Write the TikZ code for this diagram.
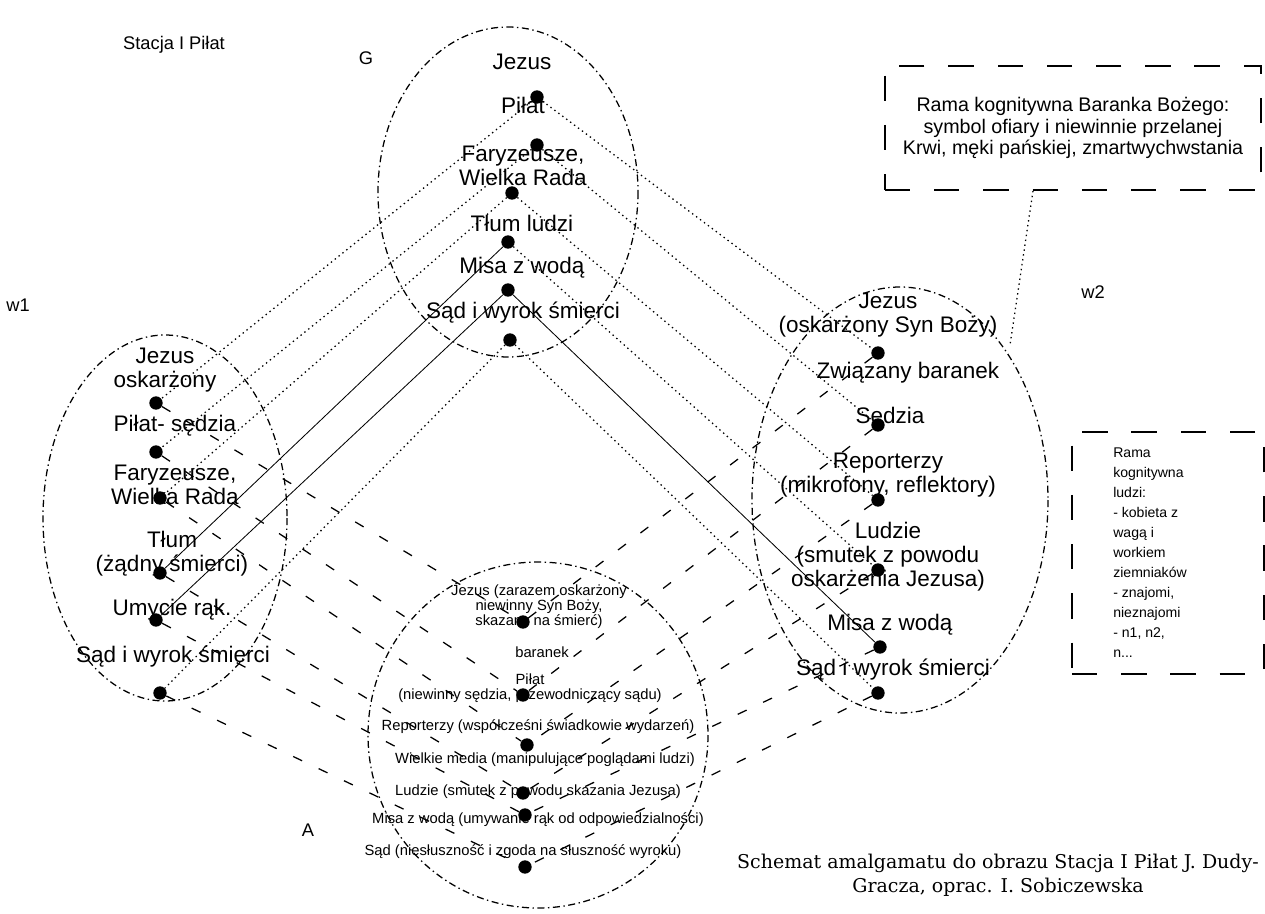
\documentclass[tikz,border=0pt]{standalone}
\usepackage{fontspec}
\setmainfont{Liberation Sans}
\newfontfamily\capfont{DejaVu Serif}
\begin{document}
\begin{tikzpicture}[x=0.025cm,y=-0.025cm,
  dot/.style={circle,fill=black,inner sep=0pt,minimum size=9.5pt},
  lab/.style={font=\fontsize{16}{17}\selectfont,align=center,inner sep=0pt},
  small/.style={font=\fontsize{10.5}{10.7}\selectfont,align=center,inner sep=0pt},
  oval/.style={line width=0.9pt,dash pattern=on 5pt off 2.5pt on 1pt off 2.5pt},
  frame/.style={draw,line width=1.3pt,dash pattern=on 18pt off 17pt},
  mapg/.style={line width=0.9pt,dash pattern=on 1pt off 2.5pt},
  mapa/.style={line width=0.9pt,dash pattern=on 7pt off 13pt}]
  \useasboundingbox (0,0) rectangle (1265,914);

  % mental spaces
  \draw[oval] (508,192) ellipse [x radius=130, y radius=165];
  \draw[oval] (165,518) ellipse [x radius=122, y radius=183];
  \draw[oval] (900,500) ellipse [x radius=148, y radius=213];
  \draw[oval] (538,735) ellipse [x radius=170, y radius=173];

  \node[font=\fontsize{13}{15}\selectfont] (title) at (174,45) {Stacja I Piłat};
  \node[font=\fontsize{13}{15}\selectfont] (gname) at (366,58) {G};
  \node[font=\fontsize{13}{15}\selectfont] (lname) at (18,305) {w1};
  \node[font=\fontsize{13}{15}\selectfont] (rname) at (1093,292) {w2};
  \node[font=\fontsize{13}{15}\selectfont] (aname) at (308,830) {A};

  % generic space
  \node[lab] (gjez) at (522,62) {Jezus};
  \node[lab] (gpil) at (523,105) {Piłat};
  \node[lab] (gfar) at (523,166) {Faryzeusze,\\Wielka Rada};
  \node[lab] (gtlum) at (522,223) {Tłum ludzi};
  \node[lab] (gmisa) at (522,268) {Misa z wodą};
  \node[lab] (gsad) at (523,313) {Sąd i wyrok śmierci};
  \node[dot] (g1) at (537,97) {};
  \node[dot] (g2) at (537,145) {};
  \node[dot] (g3) at (512,193) {};
  \node[dot] (g4) at (508,242) {};
  \node[dot] (g5) at (508,290) {};
  \node[dot] (g6) at (510,340) {};

  % input space w1
  \node[lab] (ljez) at (165,370) {Jezus\\oskarżony};
  \node[lab] (lpil) at (175,426) {Piłat- sędzia};
  \node[lab] (lfar) at (175,485) {Faryzeusze,\\Wielka Rada};
  \node[lab] (ltlum) at (172,554) {Tłum\\(żądny śmierci)};
  \node[lab] (lrak) at (172,610) {Umycie rąk.};
  \node[lab] (lsad) at (173,657) {Sąd i wyrok śmierci};
  \node[dot] (l1) at (156,403) {};
  \node[dot] (l2) at (156,452) {};
  \node[dot] (l3) at (160,498) {};
  \node[dot] (l4) at (160,573) {};
  \node[dot] (l5) at (156,620) {};
  \node[dot] (l6) at (160,693) {};

  % input space w2
  \node[lab] (rjez) at (888,315) {Jezus\\(oskarżony Syn Boży)};
  \node[lab] (rbar) at (908,373) {Związany baranek};
  \node[lab] (rsed) at (890,418) {Sędzia};
  \node[lab] (rrep) at (888,475) {Reporterzy\\(mikrofony, reflektory)};
  \node[lab] (rlud) at (888,557) {Ludzie\\(smutek z powodu\\oskarżenia Jezusa)};
  \node[lab] (rmisa) at (890,625) {Misa z wodą};
  \node[lab] (rsad) at (893,670) {Sąd i wyrok śmierci};
  \node[dot] (r1) at (878,353) {};
  \node[dot] (r2) at (878,425) {};
  \node[dot] (r3) at (878,500) {};
  \node[dot] (r4) at (878,570) {};
  \node[dot] (r5) at (880,647) {};
  \node[dot] (r6) at (878,693) {};

  % blend A
  \node[small] (ajez) at (539,607) {Jezus (zarazem oskarżony\\niewinny Syn Boży,\\skazany na śmierć)};
  \node[small] (abar) at (542,652) {baranek};
  \node[small] (apil) at (530,688) {Piłat\\(niewinny sędzia, przewodniczący sądu)};
  \node[small] (arep) at (538,727) {Reporterzy (współcześni świadkowie wydarzeń)};
  \node[small] (amed) at (545,760) {Wielkie media (manipulujące poglądami ludzi)};
  \node[small] (alud) at (538,792) {Ludzie (smutek z powodu skazania Jezusa)};
  \node[small] (amisa) at (538,820) {Misa z wodą (umywanie rąk od odpowiedzialności)};
  \node[small] (asad) at (523,852) {Sąd (niesłuszność i zgoda na słuszność wyroku)};
  \node[dot] (a1) at (523,622) {};
  \node[dot] (a2) at (523,695) {};
  \node[dot] (a3) at (527,745) {};
  \node[dot] (a4) at (523,793) {};
  \node[dot] (a5) at (525,815) {};
  \node[dot] (a6) at (525,867) {};

  % frames
  \node[frame,minimum width=9.4cm,minimum height=3.1cm,align=center,
    font=\fontsize{14}{15.5}\selectfont] (rbox) at (1073,128)
    {Rama kognitywna Baranka Bożego:\\symbol ofiary i niewinnie przelanej\\Krwi, męki pańskiej, zmartwychwstania};
  \node[frame,minimum width=4.8cm,minimum height=6.05cm] (lbox) at (1168,553) {};
  \node[anchor=north west,align=left,inner sep=0pt,font=\fontsize{10}{14.2}\selectfont] (ltext) at (1113,448)
    {Rama\\kognitywna\\ludzi:\\- kobieta z\\wagą i\\workiem\\ziemniaków\\- znajomi,\\nieznajomi\\- n1, n2,\\n...};
  \coordinate (rtop) at (1010,345);
  \draw[mapg] (rbox.south) ++(-40,0) coordinate (rfoot) -- (rtop);

  % mappings
  \foreach \i in {1,2,3,6} \draw[mapg] (g\i) -- (l\i);
  \foreach \i in {4,5} \draw[line width=0.6pt] (g\i) -- (l\i);
  \foreach \i in {1,2,3,4,6} \draw[mapg] (g\i) -- (r\i);
  \draw[line width=0.6pt] (g5) -- (r5);
  \foreach \i in {1,...,6} {
    \draw[mapa] (l\i) -- (a\i);
    \draw[mapa] (r\i) -- (a\i);
  }

  \node[font=\capfont\fontsize{13.5}{17}\selectfont,align=center] (caption) at (998,875)
    {Schemat amalgamatu do obrazu Stacja I Piłat J. Dudy-\\Gracza, oprac. I. Sobiczewska};
\end{tikzpicture}
\end{document}
